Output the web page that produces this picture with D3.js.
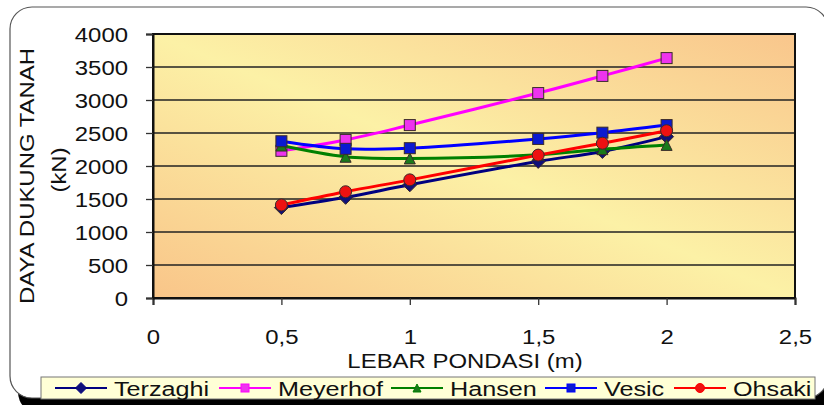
<!DOCTYPE html>
<html>
<head>
<meta charset="utf-8">
<script src="https://cdn.jsdelivr.net/npm/d3@7"></script>
<style>
  body { margin: 0; background: #fff; }
  svg text { font-family: "Liberation Sans", Arial, sans-serif; fill: #111; }
</style>
</head>
<body>
<div id="chart"></div>
<script>
// data
var lebar = [0.5, 0.75, 1, 1.5, 1.75, 2];
var terzaghi = [1370, 1525, 1715, 2070, 2220, 2445];
var meyerhof = [2230, 2395, 2620, 3105, 3365, 3635];
var hansen = [2310, 2140, 2115, 2170, 2255, 2320];
var vesic = [2375, 2260, 2270, 2410, 2505, 2620];
var ohsaki = [1410, 1610, 1790, 2165, 2345, 2535];
var seriesNames = ['Terzaghi', 'Meyerhof', 'Hansen', 'Vesic', 'Ohsaki'];
var xTicks = [0, 0.5, 1, 1.5, 2, 2.5];
var yTicks = [0, 500, 1000, 1500, 2000, 2500, 3000, 3500, 4000];

var series = [
  {name: seriesNames[0], values: terzaghi, color: '#000080', fill: '#10107a', shape: 'diamond'},
  {name: seriesNames[1], values: meyerhof, color: '#ff00ff', fill: '#ee33ee', shape: 'square'},
  {name: seriesNames[2], values: hansen, color: '#008000', fill: '#1a7a1a', shape: 'triangle'},
  {name: seriesNames[3], values: vesic, color: '#0000ff', fill: '#0a1ad0', shape: 'square'},
  {name: seriesNames[4], values: ohsaki, color: '#ff0000', fill: '#ee1111', shape: 'circle'}
];

var width = 824, height = 405;
var svg = d3.select('#chart')
    .append('svg')
    .attr('width', width)
    .attr('height', height);

var defs = svg.append('defs');
var grad = defs.append('linearGradient')
    .attr('id', 'plotBg')
    .attr('x1', 0).attr('y1', 1).attr('x2', 1).attr('y2', 0);
grad.append('stop').attr('offset', '0%').attr('stop-color', '#f9c589');
grad.append('stop').attr('offset', '50%').attr('stop-color', '#fcf1a6');
grad.append('stop').attr('offset', '100%').attr('stop-color', '#f9c68c');

// outer frame with black shadow
svg.append('rect')
    .attr('x', 18).attr('y', 14)
    .attr('width', 818).attr('height', 400)
    .attr('rx', 22)
    .attr('fill', '#000');
svg.append('rect')
    .attr('x', 10).attr('y', 7)
    .attr('width', 818).attr('height', 391)
    .attr('rx', 22)
    .attr('fill', '#fff')
    .attr('stroke', '#555')
    .attr('stroke-width', 1.2);

// Scale
var scaleX = d3.scaleLinear().domain([0, 2.5]).range([153, 795]);
var scaleY = d3.scaleLinear().domain([0, 4000]).range([298, 34]);
var stretch = 1.14;

// plot area
svg.append('rect')
    .attr('x', scaleX(0)).attr('y', scaleY(4000))
    .attr('width', scaleX(2.5) - scaleX(0))
    .attr('height', scaleY(0) - scaleY(4000))
    .attr('fill', 'url(#plotBg)');

// grid
svg.append('g').selectAll('line')
    .data(yTicks.slice(1))
    .enter()
    .append('line')
    .attr('x1', scaleX(0)).attr('x2', scaleX(2.5))
    .attr('y1', function(d) { return scaleY(d); })
    .attr('y2', function(d) { return scaleY(d); })
    .attr('stroke', '#222')
    .attr('stroke-width', 1.4);

svg.append('rect')
    .attr('x', scaleX(0)).attr('y', scaleY(4000))
    .attr('width', scaleX(2.5) - scaleX(0))
    .attr('height', scaleY(0) - scaleY(4000))
    .attr('fill', 'none')
    .attr('stroke', '#111')
    .attr('stroke-width', 2);

// Axis
var axisX = d3.axisBottom(scaleX).tickValues(xTicks).tickSize(7).tickFormat(function(d) {
  return String(d).replace('.', ',');
});
var gx = svg.append('g')
    .attr('transform', 'translate(0,' + scaleY(0) + ')')
    .call(axisX);
var axisY = d3.axisLeft(scaleY).tickValues(yTicks).tickSize(7).tickFormat(d3.format('d'));
var gy = svg.append('g')
    .attr('transform', 'translate(' + scaleX(0) + ',0)')
    .call(axisY);
[gx, gy].forEach(function(g) {
  g.select('.domain').attr('stroke', '#111').attr('stroke-width', 2);
  g.selectAll('.tick line').attr('stroke', '#333').attr('stroke-width', 1.3);
  g.selectAll('.tick text').attr('font-size', 21).attr('fill', '#111');
});
gx.selectAll('.tick text')
    .attr('y', 0).attr('dy', 0)
    .attr('transform', 'translate(0,46) scale(' + stretch + ',1)');
gy.selectAll('.tick text')
    .attr('x', 0).attr('dy', '0.36em')
    .attr('transform', 'translate(-25,0) scale(' + stretch + ',1)');

// axis titles
svg.append('text')
    .attr('transform', 'translate(465,368) scale(' + stretch + ',1)')
    .attr('text-anchor', 'middle')
    .attr('font-size', 21)
    .text('LEBAR PONDASI (m)');
svg.append('text')
    .attr('transform', 'translate(34,176) rotate(-90) scale(' + stretch + ',1)')
    .attr('text-anchor', 'middle')
    .attr('font-size', 21)
    .text('DAYA DUKUNG TANAH');
svg.append('text')
    .attr('transform', 'translate(66,170) rotate(-90) scale(' + stretch + ',1)')
    .attr('text-anchor', 'middle')
    .attr('font-size', 21)
    .text('(kN)');

// markers
function drawMarker(g, shape, x, y, fill, stroke, size) {
  var s = size / 2;
  if (shape === 'square') {
    g.append('rect').attr('x', x - s).attr('y', y - s)
        .attr('width', size).attr('height', size)
        .attr('fill', fill).attr('stroke', stroke).attr('stroke-width', 1);
  } else if (shape === 'diamond') {
    g.append('path')
        .attr('d', 'M' + x + ',' + (y - s - 1.5) + 'L' + (x + s + 1.5) + ',' + y +
            'L' + x + ',' + (y + s + 1.5) + 'L' + (x - s - 1.5) + ',' + y + 'Z')
        .attr('fill', fill).attr('stroke', stroke).attr('stroke-width', 1);
  } else if (shape === 'triangle') {
    g.append('path')
        .attr('d', 'M' + x + ',' + (y - s) + 'L' + (x + s) + ',' + (y + s) +
            'L' + (x - s) + ',' + (y + s) + 'Z')
        .attr('fill', fill).attr('stroke', stroke).attr('stroke-width', 1);
  } else {
    g.append('circle').attr('cx', x).attr('cy', y).attr('r', s + 0.5)
        .attr('fill', fill).attr('stroke', stroke).attr('stroke-width', 1);
  }
}

// lines
var line = d3.line()
    .x(function(d, i) { return scaleX(lebar[i]); })
    .y(function(d) { return scaleY(d); })
    .curve(d3.curveCatmullRom.alpha(0.5));

series.forEach(function(s) {
  var g = svg.append('g');
  g.append('path')
      .attr('d', line(s.values))
      .attr('fill', 'none')
      .attr('stroke', s.color)
      .attr('stroke-width', 3);
  s.values.forEach(function(v, i) {
    drawMarker(g, s.shape, scaleX(lebar[i]), scaleY(v), s.fill, '#3a2a2a', 11);
  });
});

// legend
svg.append('rect')
    .attr('x', 41).attr('y', 377)
    .attr('width', 774).attr('height', 22)
    .attr('fill', '#ffffd6')
    .attr('stroke', '#777')
    .attr('stroke-width', 1);
var legendX = [55, 219, 391, 545, 674];
var legend = svg.append('g').selectAll('g')
    .data(series)
    .enter()
    .append('g')
    .attr('transform', function(d, i) { return 'translate(' + legendX[i] + ',388)'; });
legend.append('line')
    .attr('x1', 0).attr('x2', 52)
    .attr('stroke', function(d) { return d.color; })
    .attr('stroke-width', 2);
legend.each(function(d) {
  drawMarker(d3.select(this), d.shape, 26, 0, d.fill, d.color, 8);
});
legend.append('text')
    .attr('transform', 'translate(59,8) scale(1.2,1)')
    .attr('font-size', 21)
    .text(function(d) { return d.name; });
</script>
</body>
</html>
